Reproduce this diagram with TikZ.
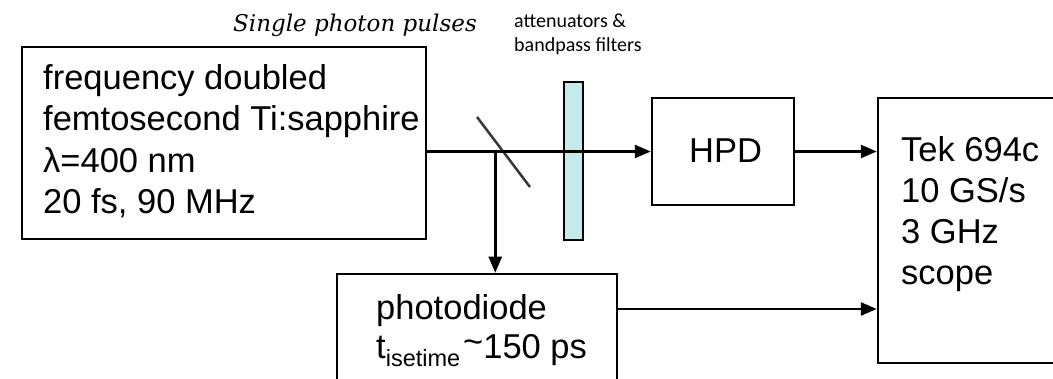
\documentclass[tikz,border=0pt]{standalone}
\usepackage{fontspec}
\setmainfont{Liberation Sans}
\newfontfamily\serifit{DejaVu Serif}
\newfontfamily\carl{Carlito}
\usetikzlibrary{arrows.meta}
\definecolor{filtfill}{RGB}{198,233,236}
\definecolor{splitcol}{RGB}{55,55,55}
\begin{document}
\begin{tikzpicture}[x=1pt,y=-1pt,
  box/.style={draw, line width=2.5pt, rectangle, inner sep=0pt},
  filterbox/.style={draw, line width=2.2pt, fill=filtfill, rectangle, inner sep=0pt},
  lbl/.style={anchor=base west, inner sep=0pt, font=\fontsize{34.5}{41}\selectfont},
  toplbl/.style={anchor=base west, inner sep=0pt, font=\carl\fontsize{20}{24}\selectfont},
  arr/.style={line width=2.5pt, -{Triangle[length=16pt,width=13pt]}},
  splitter/.style={line width=2.5pt, draw=splitcol}]
\useasboundingbox (0,0) rectangle (1053,379);
\clip (0,0) rectangle (1053,379);
% boxes
\node[box, minimum width=404pt, minimum height=192pt] (laser) at (224,143) {};
\node[box, minimum width=142pt, minimum height=107pt] (hpd) at (723,151.5) {};
\node[box, minimum width=190pt, minimum height=265pt] (scope) at (973,230.5) {};
\node[box, minimum width=280pt, minimum height=130pt] (pd) at (477,339) {};
\node[filterbox, minimum width=19pt, minimum height=158pt] (filt) at (573.5,161) {};
% beam splitter
\coordinate (s1) at (477,117);
\coordinate (s2) at (530,187);
\draw[splitter] (s1) -- (s2);
% connectors
\draw[arr] (laser.east |- hpd.west) -- (hpd.west);
\path (laser.east |- hpd.west) ++(68,0) coordinate (bs);
\draw[arr] (bs) -- (bs |- pd.north);
\draw[arr] (hpd.east) -- (scope.west |- hpd.east);
\coordinate (pdo) at (pd.east |- 0,309);
\draw[arr] (pdo) -- (scope.west |- pdo);
% texts
\node[lbl] (l1) at (43,90) {frequency doubled};
\node[lbl] (l2) at (43,131) {femtosecond Ti:sapphire};
\node[lbl] (l3) at (43,173) {λ=400 nm};
\node[lbl] (l4) at (43,214) {20 fs, 90 MHz};
\node[lbl] (hpdt) at (689,163) {HPD};
\node[lbl] (s1t) at (901,162) {Tek 694c};
\node[lbl] (s2t) at (901,203) {10 GS/s};
\node[lbl] (s3t) at (901,244) {3 GHz};
\node[lbl] (s4t) at (901,285) {scope};
\node[lbl] (p1) at (376,320) {photodiode};
\node[lbl] (p2) at (376,359) {t\raisebox{-8pt}{\fontsize{23.5}{28}\selectfont isetime}\hspace{3pt}\raisebox{5pt}{\textasciitilde}150 ps};
\node[anchor=base west, inner sep=0pt, font=\serifit\itshape\fontsize{23}{27}\selectfont] (spp) at (233,32) {Single photon pulses};
\node[toplbl] (at1) at (514,28) {attenuators \&};
\node[toplbl] (at2) at (514,52) {bandpass filters};
\end{tikzpicture}
\end{document}
